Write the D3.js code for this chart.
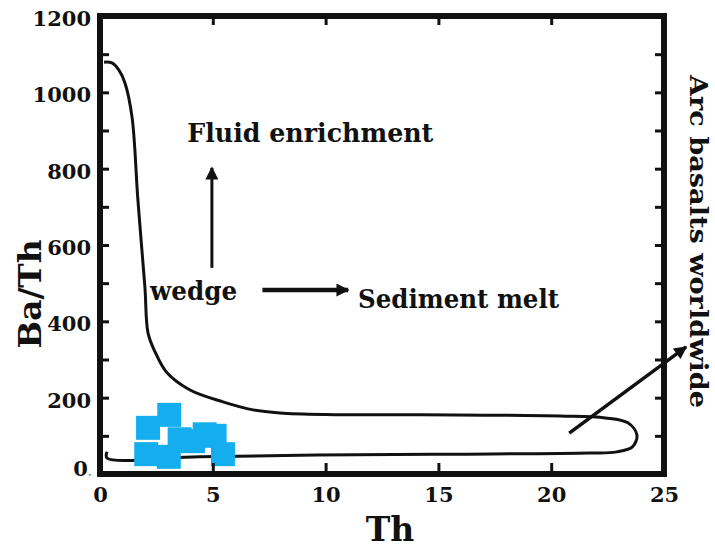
<!DOCTYPE html>
<html>
<head>
<meta charset="utf-8">
<script src="https://cdn.jsdelivr.net/npm/d3@7"></script>
<style>
  html, body { margin: 0; padding: 0; background: #fff; }
  svg { display: block; }
  text { font-family: "DejaVu Serif", "Liberation Serif", serif; font-weight: bold; fill: #111; }
</style>
</head>
<body>
<svg id="chart" width="715" height="548"></svg>
<script>
// Ba/Th versus Th discrimination diagram
const xTicks = [0, 5, 10, 15, 20, 25];
const yTicks = [0, 100, 200, 300, 400, 500, 600, 700, 800, 900, 1000, 1100, 1200];
const yLabelled = [0, 200, 400, 600, 800, 1000, 1200];

// Envelope of arc basalts worldwide (Th, Ba/Th)
const envelopeTh = [0.18, 0.53, 0.84, 1.11, 1.42, 1.68, 1.99, 2.13, 2.44, 2.97, 3.99, 5.45, 6.78, 7.98,
  10.0, 14.2, 20.4, 22.4, 23.4, 23.8, 23.6, 22.9, 21.7, 15.5, 9.6, 4.4, 0.31, 0.31];
const envelopeBaTh = [1079, 1077, 1058, 1024, 935, 718, 490, 369, 320, 265, 220, 189, 168, 160,
  156, 155, 152, 147, 134, 102, 71, 58, 55, 52, 50, 45, 42, 58];

// Samples (Th, Ba/Th)
const sampleTh = [2.13, 3.07, 2.05, 3.05, 3.53, 4.12, 4.64, 5.08, 5.45];
const sampleBaTh = [121, 155, 52, 45, 91, 86, 104, 100, 52];

// Trend arrows: [Th0, BaTh0, Th1, BaTh1]
const arrowFluid = [4.96, 540, 4.96, 802];
const arrowSediment = [7.2, 482, 11.0, 482];
const arrowArc = [20.8, 107, 25.98, 333];

const svg = d3.select("#chart");
const x = d3.scaleLinear().domain([0, 25]).range([100, 664]);
const y = d3.scaleLinear().domain([0, 1200]).range([474, 16]);

svg.append("defs").append("marker")
  .attr("id", "head")
  .attr("viewBox", "0 0 10 10")
  .attr("refX", 9).attr("refY", 5)
  .attr("markerUnits", "userSpaceOnUse")
  .attr("markerWidth", 15).attr("markerHeight", 13)
  .attr("orient", "auto")
  .append("path").attr("d", "M0,0 L10,5 L0,10 Z").attr("fill", "#111");

// envelope
const line = d3.line().x(d => x(d[0])).y(d => y(d[1])).curve(d3.curveCatmullRom.alpha(0.5));
svg.append("path")
  .datum(envelopeTh.map((t, i) => [t, envelopeBaTh[i]]))
  .attr("d", line)
  .attr("fill", "none").attr("stroke", "#111").attr("stroke-width", 3)
  .attr("stroke-linejoin", "round");

// sample markers, drawn over the envelope
svg.append("g").selectAll("rect")
  .data(sampleTh.map((t, i) => [t, sampleBaTh[i]]))
  .join("rect")
  .attr("x", d => x(d[0]) - 12)
  .attr("y", d => y(d[1]) - 12)
  .attr("width", 24).attr("height", 24)
  .attr("fill", "#14aeee");

// axes with inward ticks
const axLeft = svg.append("g").attr("transform", `translate(${x(0)},0)`)
  .call(d3.axisLeft(y).tickValues(yTicks).tickSizeInner(-9).tickSizeOuter(0).tickPadding(9)
    .tickFormat(d => yLabelled.includes(d) ? d3.format("d")(d) : ""));
const axRight = svg.append("g").attr("transform", `translate(${x(25)},0)`)
  .call(d3.axisRight(y).tickValues(yTicks.slice(1, -1)).tickSizeInner(-9).tickSizeOuter(0).tickFormat(""));
const axBottom = svg.append("g").attr("transform", `translate(0,${y(0)})`)
  .call(d3.axisBottom(x).tickValues(xTicks).tickSizeInner(-11).tickSizeOuter(0).tickPadding(13));
const axTop = svg.append("g").attr("transform", `translate(0,${y(1200)})`)
  .call(d3.axisTop(x).tickValues(xTicks.slice(1, -1)).tickSizeInner(-9).tickSizeOuter(0).tickFormat(""));

[axLeft, axRight, axBottom, axTop].forEach(g => {
  g.select(".domain").remove();
  g.selectAll(".tick line").attr("stroke", "#111").attr("stroke-width", 3);
  g.selectAll("text").attr("font-size", 21).attr("fill", "#111")
    .attr("font-family", "DejaVu Serif").attr("font-weight", "bold");
});
axBottom.selectAll(".tick").filter(d => d === 0 || d === 25).select("line").remove();
axLeft.selectAll(".tick").filter(d => d === 0 || d === 1200).select("line").remove();
axLeft.selectAll(".tick text").attr("dy", "0.45em");
axLeft.selectAll(".tick").filter(d => d === 0).select("text")
  .attr("dy", "0.05em").attr("x", -8)
  .append("tspan").attr("font-size", 12).attr("fill", "#999").text(".");

// frame
svg.append("rect")
  .attr("x", x(0)).attr("y", y(1200))
  .attr("width", x(25) - x(0)).attr("height", y(0) - y(1200))
  .attr("fill", "none").attr("stroke", "#111").attr("stroke-width", 6);

// axis titles
svg.append("text")
  .attr("transform", `translate(41,294) rotate(-90)`)
  .attr("text-anchor", "middle")
  .attr("font-size", 32)
  .attr("textLength", 109).attr("lengthAdjust", "spacingAndGlyphs")
  .text("Ba/Th");
svg.append("text")
  .attr("x", 390).attr("y", 541)
  .attr("text-anchor", "middle")
  .attr("font-size", 33)
  .text("Th");

// trend arrows
function arrow(a, w) {
  svg.append("line")
    .attr("x1", x(a[0])).attr("y1", y(a[1]))
    .attr("x2", x(a[2])).attr("y2", y(a[3]))
    .attr("stroke", "#111").attr("stroke-width", w)
    .attr("marker-end", "url(#head)");
}
arrow(arrowFluid, 3);
arrow(arrowSediment, 4.5);
arrow(arrowArc, 3.5);

// annotations
svg.append("text").attr("x", x(3.87)).attr("y", 142)
  .attr("font-size", 26).attr("textLength", 246).attr("lengthAdjust", "spacingAndGlyphs")
  .text("Fluid enrichment");
svg.append("text").attr("x", x(2.22)).attr("y", 300)
  .attr("font-size", 26).attr("textLength", 87).attr("lengthAdjust", "spacingAndGlyphs")
  .text("wedge");
svg.append("text").attr("x", x(11.44)).attr("y", 308)
  .attr("font-size", 26).attr("textLength", 201).attr("lengthAdjust", "spacingAndGlyphs")
  .text("Sediment melt");
svg.append("text")
  .attr("transform", `translate(690,75) rotate(90)`)
  .attr("font-size", 25).attr("textLength", 333).attr("lengthAdjust", "spacingAndGlyphs")
  .text("Arc basalts worldwide");
</script>
</body>
</html>
